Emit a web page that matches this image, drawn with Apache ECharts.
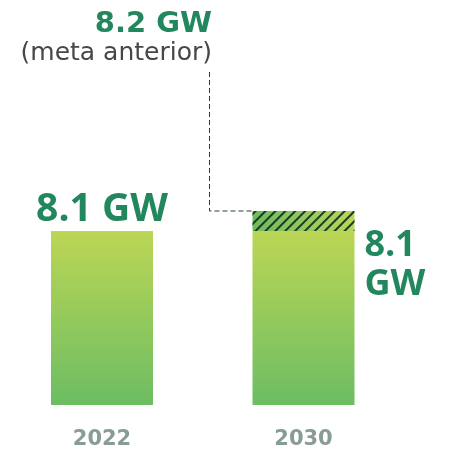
<!DOCTYPE html>
<html><head><meta charset="utf-8">
<script src="https://cdn.jsdelivr.net/npm/echarts@6/dist/echarts.min.js"></script>
<style>html,body{margin:0;padding:0;background:#fff}#c{width:449px;height:453px}</style>
</head><body><div id="c"></div>
<script>
const categories = ['2022', '2030'];
const currentValues = [8.1, 8.1];
const targetExtra = [null, 0.1];
const targetValue = 8.2;
const currentLabels = ['8.1 GW', '8.1\nGW'];
const targetLabel = '8.2 GW';
const targetNote = '(meta anterior)';

const axisMin = 7.23, axisMax = 9.23;
const green = '#23875d';
const FONT = '"Open Sans", sans-serif';
const DJ = '"DejaVu Sans", sans-serif';

const chart = echarts.init(document.getElementById('c'));
const barGrad = new echarts.graphic.LinearGradient(0, 0, 0, 1, [
  {offset: 0, color: '#bcd655'}, {offset: 1, color: '#6cbd63'}
]);
const hatchGrad = new echarts.graphic.LinearGradient(0, 0, 1, 0, [
  {offset: 0, color: '#6cbb60'}, {offset: 1, color: '#bad656'}
]);
chart.setOption({
  animation: false,
  grid: {left: 1.25, right: 44.75, top: 5, bottom: 48},
  xAxis: {
    type: 'category', data: categories,
    axisLine: {show: false}, axisTick: {show: false},
    axisLabel: {color: '#879c92', fontSize: 21, fontWeight: 'bold', fontFamily: DJ, margin: 24}
  },
  yAxis: {type: 'value', min: axisMin, max: axisMax, startValue: axisMin, show: false, splitLine: {show: false}},
  series: [
    {
      type: 'bar', stack: 's', barWidth: 102,
      itemStyle: {color: barGrad},
      data: currentValues.map((v, i) => ({
        value: v,
        label: i === 0 ? {
          show: true, position: 'top', distance: 2, formatter: currentLabels[i],
          color: green, fontSize: 39, fontWeight: 'bold', fontFamily: FONT
        } : {
          show: true, position: [112, -5], formatter: currentLabels[i], align: 'left', verticalAlign: 'top',
          color: green, fontSize: 36, fontWeight: 'bold', fontFamily: FONT, lineHeight: 39
        }
      }))
    },
    {
      type: 'bar', stack: 's', barWidth: 102,
      itemStyle: {
        color: hatchGrad,
        decal: {symbol: 'rect', symbolSize: 1, dashArrayX: [1, 0], dashArrayY: [1.4, 4.4], rotation: -Math.PI / 4, color: '#1d3a22'}
      },
      data: targetExtra
    }
  ]
});

const yT = chart.convertToPixel({yAxisIndex: 0}, targetValue);
const xC = chart.convertToPixel({xAxisIndex: 0}, categories[1]);
const xL = xC - 51;
const xV = xL - 43;
chart.setOption({
  graphic: [
    {type: 'polyline', shape: {points: [[xV, 72], [xV, yT], [xL, yT]]},
     style: {stroke: '#24403a', lineWidth: 1, lineDash: [5, 3], fill: null}},
    {type: 'text', x: 212, y: 24, style: {text: targetLabel, align: 'right', verticalAlign: 'middle',
      fill: green, font: 'bold 29px ' + DJ}},
    {type: 'text', x: 212, y: 53, style: {text: targetNote, align: 'right', verticalAlign: 'middle',
      fill: '#474747', font: '25px ' + DJ}}
  ]
});
</script></body></html>
